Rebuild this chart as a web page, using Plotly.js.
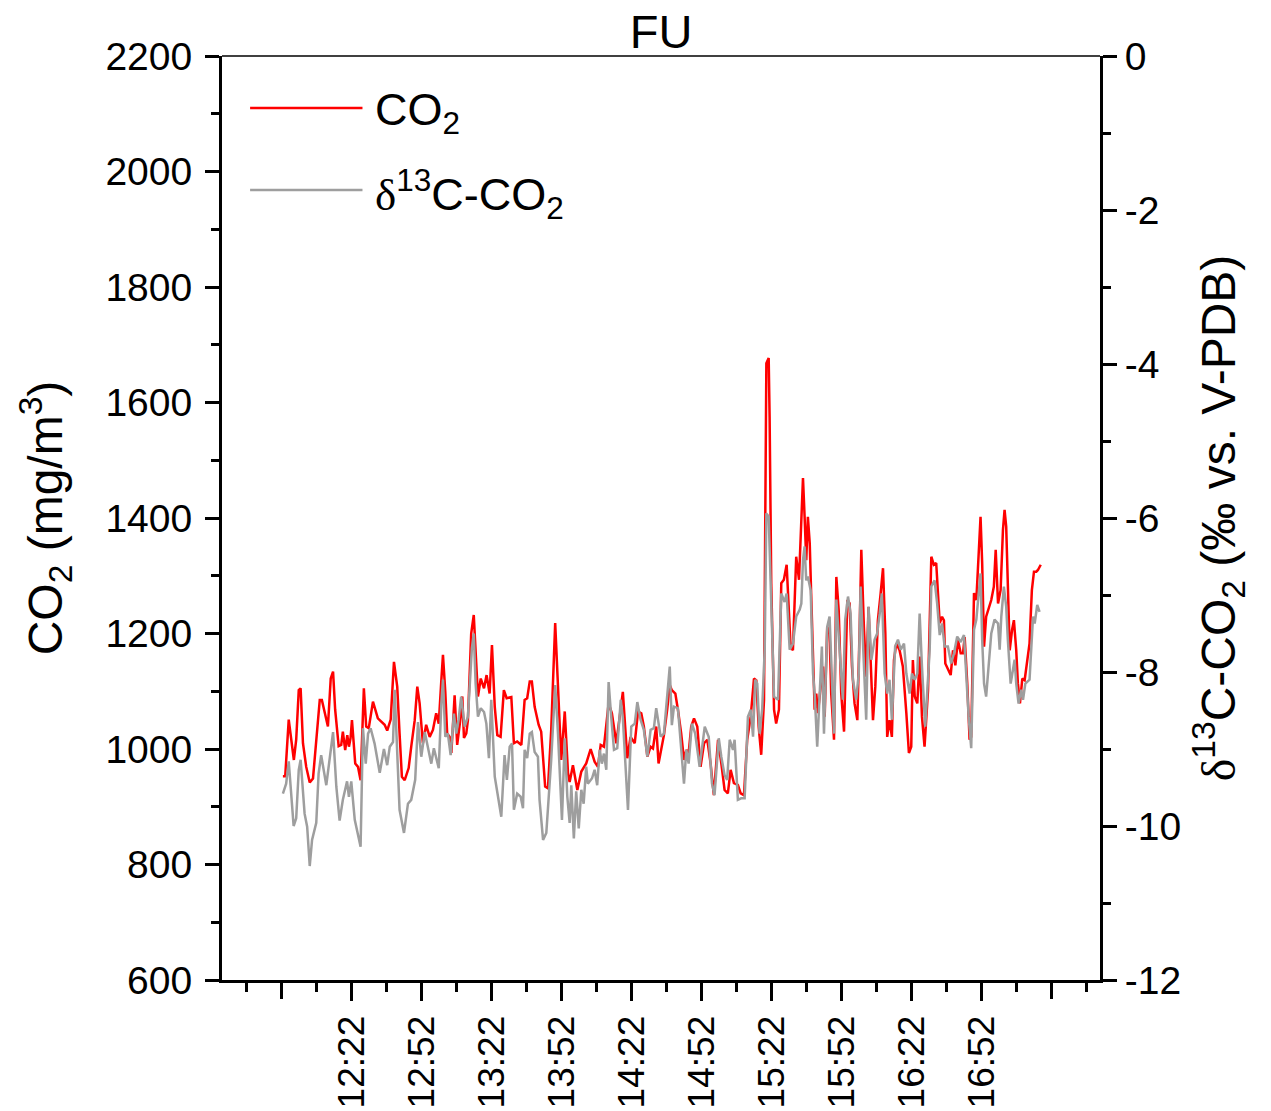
<!DOCTYPE html>
<html>
<head>
<meta charset="utf-8">
<script src="https://cdn.plot.ly/plotly-3.0.1.min.js"></script>
<style>html,body{margin:0;padding:0;background:#fff;}#chart{width:1271px;height:1111px;}</style>
</head>
<body>
<div id="chart"></div>
<script>
// Time in minutes after midnight (e.g. 742 = 12:22)
const co2Min = [712.4,713.4,714.9,716.0,717.1,718.1,719.2,720.0,721.0,722.4,723.9,725.3,726.7,728.2,729.1,730.3,731.7,732.9,733.9,734.8,736.3,737.4,738.1,739.1,740.0,740.7,741.4,742.0,743.4,744.6,745.7,747.1,748.1,749.2,751.0,753.1,756.0,757.1,758.6,760.0,761.4,762.4,763.4,764.6,766.3,767.4,768.9,770.0,771.0,772.4,773.8,775.3,776.7,778.1,779.2,780.3,781.0,782.0,782.8,783.9,784.6,786.0,787.1,788.6,789.3,790.0,791.0,791.7,793.1,794.2,795.0,796.0,797.2,798.6,799.7,801.0,802.0,803.2,804.3,805.7,807.1,808.3,810.3,811.4,812.8,814.6,816.0,817.1,818.2,819.1,820.3,822.0,823.1,824.8,826.0,827.4,829.1,830.3,831.7,833.2,834.6,835.3,836.7,838.6,840.3,842.4,844.3,846.0,847.4,848.6,850.0,852.0,853.4,855.3,856.7,858.1,860.0,861.4,863.2,864.6,866.0,867.1,868.6,870.0,871.0,872.4,873.4,874.6,875.7,877.1,878.2,879.1,880.6,881.7,883.1,884.3,885.3,886.3,887.4,888.6,890.0,891.4,892.9,894.3,895.7,897.1,898.9,900.3,901.7,903.1,904.3,905.7,907.4,908.6,910.0,911.4,912.9,914.3,915.3,916.3,917.4,918.6,919.6,920.6,921.0,921.7,922.9,923.8,925.0,926.0,927.1,928.3,929.2,930.0,931.0,932.4,933.6,935.3,936.0,936.7,937.4,938.2,938.8,939.6,940.3,941.0,941.7,942.9,943.9,944.6,945.7,946.7,947.4,948.6,949.6,950.6,951.7,952.9,954.3,955.3,956.3,957.4,958.6,959.6,960.3,961.4,962.4,963.4,964.3,965.3,966.3,967.4,968.6,969.6,970.6,971.4,972.4,973.4,974.3,975.3,976.7,978.1,979.6,980.7,981.7,982.4,983.2,984.3,985.3,986.3,987.4,988.9,990.3,991.4,992.4,993.1,993.9,994.9,995.7,996.3,997.4,998.6,999.6,1000.6,1001.7,1002.9,1003.9,1004.6,1005.7,1006.7,1007.4,1008.6,1009.6,1010.6,1011.4,1012.1,1012.9,1013.8,1014.9,1016.0,1017.1,1017.9,1018.9,1020.0,1021.0,1021.7,1022.4,1023.1,1023.9,1024.9,1025.7,1026.7,1027.4,1028.3,1029.3,1030.3,1031.4,1032.4,1033.4,1034.3,1035.3,1036.0,1037.2];
const co2Val = [953,953,1051,1016,981,1016,1102,1105,1010,969,942,949,1010,1085,1085,1062,1039,1122,1134,1068,1005,1007,1030,998,1024,1004,1019,1050,975,969,946,1105,1039,1036,1082,1053,1042,1032,1051,1151,1108,1027,952,946,967,1004,1050,1108,1079,1010,1042,1021,1033,1062,1044,1119,1163,1099,1027,1021,993,1093,1007,1056,1091,1019,1027,1050,1200,1232,1177,1091,1122,1105,1128,1096,1180,1073,1024,1021,1102,1088,1090,1010,1013,1007,1085,1088,1117,1117,1073,1042,1030,935,932,1033,1218,1102,981,1065,958,943,972,929,961,975,1000,978,969,1007,1004,1079,1062,1010,1056,1099,984,1021,1010,1065,1062,1039,987,1004,1001,1039,975,998,1024,1068,1111,1102,1096,1068,1027,981,998,993,1039,1053,1039,969,1010,1016,975,920,1016,975,929,923,964,941,938,923,920,1016,1056,1122,1119,1039,990,1085,1668,1677,1575,1287,1068,1044,1068,1287,1293,1319,1252,1177,1171,1333,1293,1469,1402,1327,1402,1356,1270,1154,1068,1096,1062,1108,1143,1056,1212,1200,1096,1016,1298,1241,1096,1030,1258,1252,1143,1079,1050,1212,1345,1212,1125,1246,1154,1050,1108,1223,1270,1313,1200,1021,1050,1021,1154,1183,1171,1143,1062,993,1004,1154,1091,1079,1160,1056,1004,1102,1333,1319,1322,1264,1218,1229,1223,1148,1137,1128,1171,1145,1189,1166,1166,1194,1114,1016,1021,1270,1258,1350,1402,1322,1177,1229,1246,1258,1281,1345,1252,1275,1379,1414,1385,1275,1171,1206,1223,1171,1114,1079,1122,1119,1148,1183,1275,1307,1307,1310,1319];

const d13Min = [712.4,713.8,714.9,716.0,717.0,718.1,719.2,720.0,721.7,722.8,723.9,724.9,726.7,727.7,728.8,731.0,732.4,733.9,735.3,736.7,738.1,739.9,740.7,741.7,743.2,744.6,745.7,746.7,747.9,748.9,750.0,751.7,753.9,755.7,757.1,758.2,759.6,760.3,761.4,762.4,764.3,766.0,767.4,769.1,770.3,771.7,773.2,774.6,776.0,777.1,779.2,780.3,781.0,782.0,783.1,784.3,785.7,786.7,787.7,788.8,790.3,791.7,793.4,794.2,795.0,796.0,797.2,798.6,799.6,800.7,801.7,803.2,804.6,806.0,807.4,808.4,809.6,810.6,811.4,812.8,814.3,815.3,816.0,817.1,818.2,819.1,820.3,821.7,822.4,823.9,825.3,827.4,829.1,830.3,832.0,833.2,834.3,835.3,836.0,837.1,838.1,839.2,840.3,841.3,842.4,843.1,844.9,846.0,847.1,848.2,849.1,850.0,851.0,852.0,853.1,854.3,855.7,857.2,858.1,859.1,860.3,861.7,863.2,864.3,865.7,867.1,868.6,870.0,871.4,872.4,874.3,875.7,877.1,878.2,879.1,880.0,881.7,883.1,884.3,885.3,886.3,887.7,889.1,891.0,893.2,894.9,896.3,897.4,899.2,900.3,901.7,902.8,903.9,905.3,906.0,907.4,908.8,910.3,911.7,912.9,913.9,914.8,915.7,916.7,917.8,918.9,919.6,920.6,921.7,922.9,924.6,926.0,927.4,928.3,929.6,931.0,932.4,933.9,934.6,935.3,936.0,936.7,937.4,938.6,939.6,940.3,941.4,942.4,943.4,944.3,945.7,946.7,947.4,948.6,949.6,951.0,952.4,953.4,954.6,955.7,956.7,958.1,959.2,960.0,961.0,962.4,963.4,964.6,966.0,967.1,968.2,969.1,970.3,971.4,972.4,973.4,974.8,976.0,977.2,978.6,979.6,981.0,982.0,983.2,984.3,985.3,986.3,987.7,989.6,990.3,991.7,992.8,993.9,994.9,996.0,997.4,998.8,1000.0,1001.4,1002.9,1004.3,1005.3,1006.3,1007.4,1008.6,1009.6,1010.6,1011.4,1012.1,1012.9,1013.8,1014.9,1016.0,1017.4,1018.9,1019.6,1020.3,1021.4,1022.4,1023.1,1024.3,1025.3,1026.0,1026.7,1027.7,1028.8,1029.6,1030.6,1032.4,1033.9,1034.6,1035.7,1036.7];
const d13Val = [-9.58,-9.45,-9.16,-9.62,-10.0,-9.9,-9.27,-9.14,-9.84,-10.01,-10.52,-10.18,-9.96,-9.32,-9.08,-9.47,-9.14,-8.78,-9.49,-9.93,-9.66,-9.42,-9.62,-9.42,-9.92,-10.12,-10.27,-8.73,-9.19,-8.80,-8.73,-8.93,-9.31,-9.00,-9.21,-8.97,-8.91,-8.23,-9.04,-9.79,-10.09,-9.71,-9.66,-9.40,-8.65,-9.10,-8.78,-8.99,-9.19,-8.99,-9.25,-8.41,-8.10,-8.84,-8.80,-9.08,-8.54,-8.80,-8.62,-8.32,-8.71,-8.58,-7.69,-7.50,-8.15,-8.58,-8.47,-8.52,-8.67,-9.12,-8.36,-9.36,-9.62,-9.88,-9.08,-9.40,-8.97,-8.93,-9.79,-9.58,-9.62,-9.77,-9.01,-9.12,-8.80,-8.78,-9.04,-9.10,-9.66,-10.18,-10.09,-9.14,-8.17,-8.80,-9.92,-8.86,-9.62,-9.96,-9.47,-10.16,-9.55,-10.03,-9.53,-9.71,-9.23,-9.45,-9.38,-9.27,-9.47,-9.01,-9.19,-9.06,-9.27,-8.13,-8.58,-9.01,-8.99,-8.36,-8.60,-9.10,-9.79,-8.71,-8.67,-8.39,-8.62,-8.75,-9.10,-8.75,-8.73,-8.47,-8.84,-8.80,-8.36,-7.93,-8.69,-8.45,-8.47,-9.01,-9.45,-9.01,-9.19,-8.67,-8.80,-9.23,-8.71,-8.84,-9.45,-9.60,-8.86,-9.10,-9.34,-9.40,-8.88,-9.01,-8.88,-9.66,-9.64,-9.64,-8.58,-8.49,-8.84,-8.10,-8.15,-8.80,-8.49,-7.71,-5.94,-5.98,-7.28,-8.32,-8.36,-6.98,-7.09,-6.98,-7.71,-7.63,-7.28,-7.19,-7.11,-6.55,-6.37,-6.81,-6.76,-6.94,-8.02,-8.28,-8.97,-8.28,-7.67,-8.80,-7.41,-7.28,-7.84,-8.80,-7.06,-7.67,-8.36,-7.32,-7.02,-7.24,-8.10,-8.36,-8.02,-6.89,-7.63,-8.62,-7.15,-7.84,-7.58,-7.50,-7.24,-6.98,-8.02,-8.28,-8.10,-8.62,-7.67,-7.58,-7.71,-7.63,-8.02,-8.28,-8.02,-8.10,-8.02,-7.24,-7.93,-8.71,-7.71,-6.89,-6.81,-7.11,-7.52,-7.37,-7.67,-7.67,-7.89,-7.76,-7.54,-7.61,-7.52,-8.15,-8.58,-8.99,-7.45,-7.32,-6.94,-6.72,-7.58,-8.15,-8.32,-7.89,-7.50,-7.32,-7.37,-7.71,-7.28,-6.89,-7.15,-7.58,-8.15,-7.97,-7.84,-8.15,-8.41,-8.23,-8.36,-8.15,-8.10,-7.28,-7.37,-7.13,-7.22];

// x-axis ticks (minutes after midnight)
const xLabelVals = [742,772,802,832,862,892,922,952,982,1012];
const xLabelText = ['12:22','12:52','13:22','13:52','14:22','14:52','15:22','15:52','16:22','16:52'];
const xUnlabeledMajor = [712,1042];
const xMinorVals = [697,727,757,787,817,847,877,907,937,967,997,1027,1057];
// right axis tick labels
const d13TickVals = [-12,-10,-8,-6,-4,-2,0];
const d13TickText = ['-12','-10','-8','-6','-4','-2','0'];

const seriesNames = ['CO<sub>2</sub>', '<span style="font-family:Liberation Serif, Times New Roman, serif">δ</span><sup>13</sup>C-CO<sub>2</sub>'];
const seriesColors = ['#FF0000', '#9E9E9E'];

const FONT = 'Liberation Sans, Arial, Helvetica, sans-serif';
const SERIF = 'Liberation Serif, Times New Roman, serif';
const X_RANGE = [686.3, 1062.6];

const traces = [
  {x: co2Min, y: co2Val, type: 'scatter', mode: 'lines', name: seriesNames[0],
   line: {color: seriesColors[0], width: 2.5}, xaxis: 'x', yaxis: 'y', showlegend: false},
  {x: d13Min, y: d13Val, type: 'scatter', mode: 'lines', name: seriesNames[1],
   line: {color: seriesColors[1], width: 2.5}, xaxis: 'x2', yaxis: 'y2', showlegend: false}
];

const axisCommon = {
  showline: true, linecolor: '#000', linewidth: 3, mirror: false,
  ticks: 'outside', tickcolor: '#000', tickwidth: 3,
  showgrid: false, zeroline: false,
  tickfont: {family: FONT, size: 39, color: '#000'}
};

// custom legend (long line samples like the original)
const legendRowsY = [0.9437, 0.855];
const legendShapes = legendRowsY.map((yy, i) => ({
  type: 'line', xref: 'paper', yref: 'paper', x0: 0.032, x1: 0.160, y0: yy, y1: yy,
  line: {color: seriesColors[i], width: 2.5}
}));
const legendTexts = legendRowsY.map((yy, i) => ({
  xref: 'paper', yref: 'paper', x: 0.172, y: yy, xanchor: 'left', yanchor: 'middle',
  text: seriesNames[i], showarrow: false, yshift: -4,
  font: {family: FONT, size: 45, color: '#000'}
}));

const layout = {
  width: 1271, height: 1111,
  margin: {l: 222, r: 171, t: 56, b: 131, pad: 0},
  paper_bgcolor: '#fff', plot_bgcolor: '#fff',
  font: {family: FONT, color: '#000'},
  title: {text: 'FU', font: {family: FONT, size: 47, color: '#000'},
          x: 0.5, xref: 'paper', xanchor: 'center', y: 0.972, yref: 'container', yanchor: 'middle'},
  showlegend: false,
  xaxis: Object.assign({}, axisCommon, {
    range: X_RANGE, tickmode: 'array', tickvals: xLabelVals, ticktext: xLabelText,
    tickangle: -90, ticklen: 18, tickfont: {family: FONT, size: 37, color: '#000'},
    minor: {tickmode: 'array', tickvals: xMinorVals, ticks: 'outside', ticklen: 9, tickwidth: 3, tickcolor: '#000'}
  }),
  xaxis2: {
    overlaying: 'x', anchor: 'y2', side: 'bottom', range: X_RANGE,
    tickmode: 'array', tickvals: xUnlabeledMajor, showticklabels: false,
    ticks: 'outside', ticklen: 18, tickwidth: 3, tickcolor: '#000',
    showline: false, showgrid: false, zeroline: false
  },
  yaxis: Object.assign({}, axisCommon, {
    range: [600, 2200], tick0: 600, dtick: 200, ticklen: 14, ticklabelstandoff: 5,
    minor: {dtick: 100, ticks: 'outside', ticklen: 8, tickwidth: 3, tickcolor: '#000'},
    title: {text: 'CO<sub>2</sub> (mg/m<sup>3</sup>)', font: {family: FONT, size: 48, color: '#000'}, standoff: 28}
  }),
  yaxis2: Object.assign({}, axisCommon, {
    overlaying: 'y', anchor: 'x2', side: 'right', range: [-12, 0],
    tickmode: 'array', tickvals: d13TickVals, ticktext: d13TickText, ticklen: 14,
    minor: {tickmode: 'linear', tick0: -12, dtick: 1, ticks: 'outside', ticklen: 8, tickwidth: 3, tickcolor: '#000'},
    title: {text: '<span style="font-family:' + SERIF + '">δ</span><sup>13</sup>C-CO<sub>2</sub> (‰ vs. V-PDB)',
            font: {family: FONT, size: 48, color: '#000'}, standoff: 22}
  }),
  shapes: [{type: 'line', xref: 'paper', yref: 'paper', x0: 0, x1: 1, y0: 1, y1: 1,
            line: {color: '#000', width: 1.5}}].concat(legendShapes),
  annotations: legendTexts
};

Plotly.newPlot('chart', traces, layout, {displayModeBar: false, staticPlot: true});
</script>
</body>
</html>
